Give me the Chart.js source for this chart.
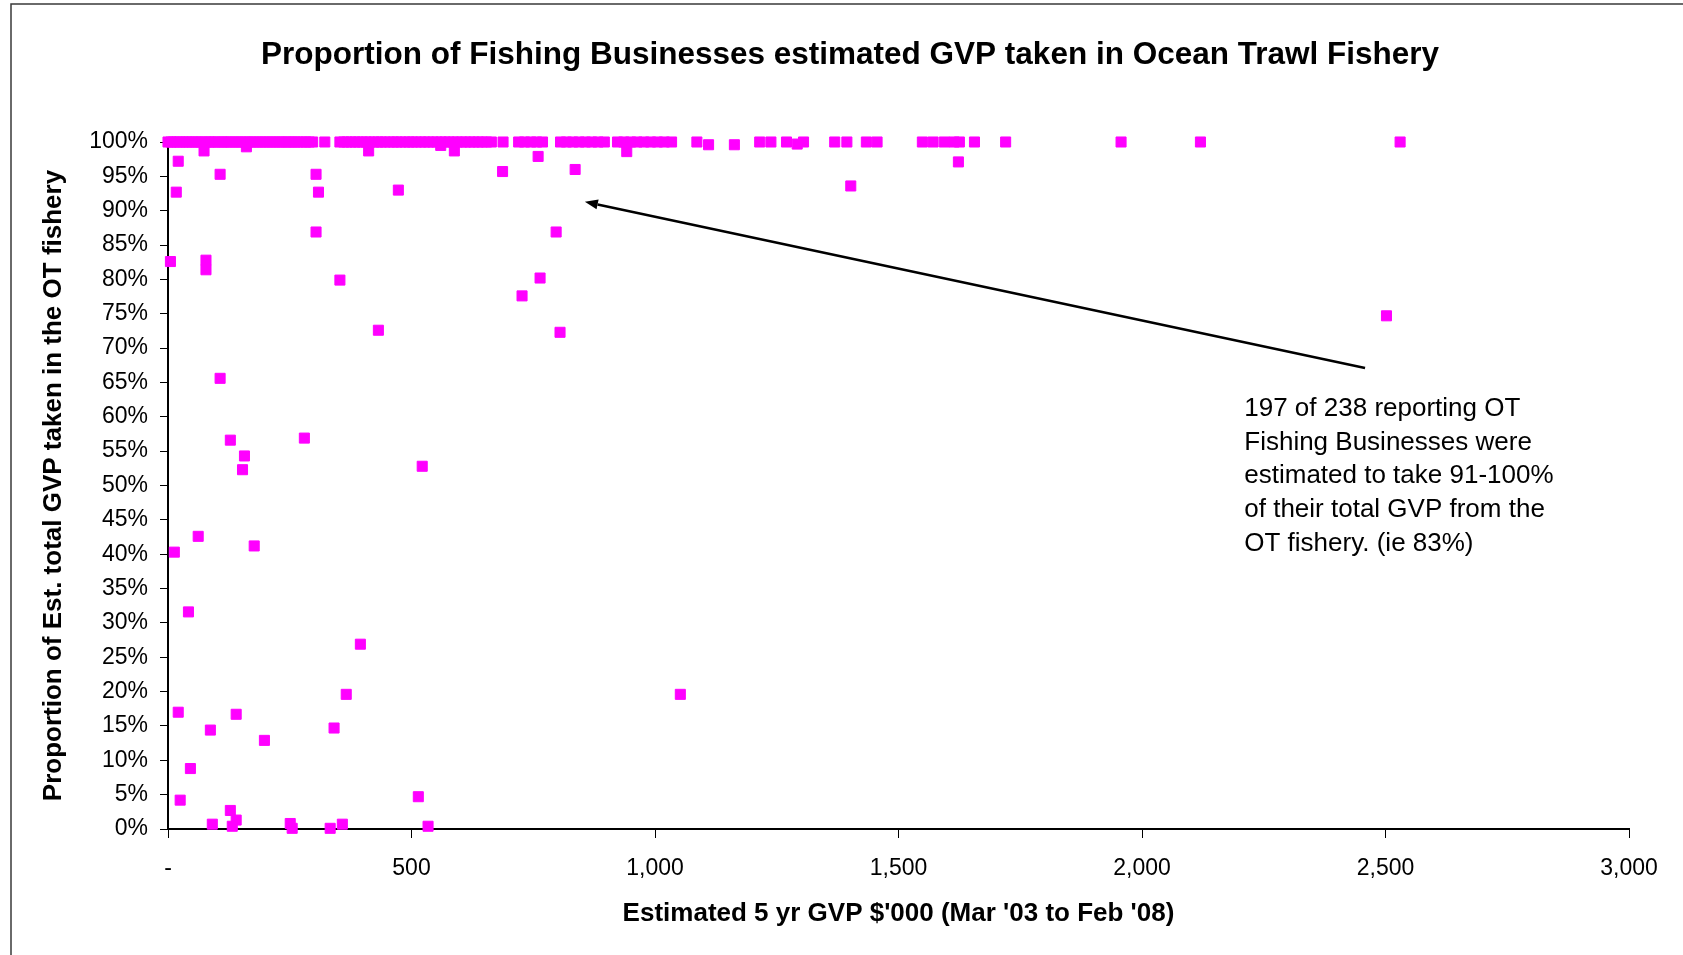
<!DOCTYPE html>
<html>
<head>
<meta charset="utf-8">
<script src="https://cdn.jsdelivr.net/npm/chart.js@4.4.1/dist/chart.umd.min.js"></script>
<style>
  html, body { margin: 0; padding: 0; background: #ffffff; }
  #wrap { position: relative; width: 1683px; height: 955px; }
  canvas { display: block; }
</style>
</head>
<body>
<div id="wrap"><canvas id="c" width="1683" height="955"></canvas></div>
<script>
// ---- Data ----
const titleText = "Proportion of Fishing Businesses estimated GVP taken in Ocean Trawl Fishery";
const xTitle = "Estimated 5 yr GVP $'000 (Mar '03 to Feb '08)";
const yTitle = "Proportion of Est. total GVP taken in the OT fishery";
const noteLines = ["197 of 238 reporting OT", "Fishing Businesses were", "estimated to take 91-100%", "of their total GVP from the", "OT fishery. (ie 83%)"];

// Businesses taking ~100% of GVP from the OT fishery (x = est. 5 yr GVP $'000)
const fullShareGvp = [0, 6, 11, 19, 24, 31, 38, 43, 50, 57, 63, 69, 77, 84, 89, 96, 103, 110, 116, 123,
  129, 137, 144, 150, 158, 165, 171, 178, 186, 192, 199, 207, 213, 220, 228, 234, 241, 248, 255, 261,
  268, 276, 283, 290, 297, 322, 353, 361, 368, 376, 384, 391, 399, 407, 414, 423, 431, 438, 446, 455,
  463, 470, 478, 487, 495, 502, 510, 519, 527, 535, 544, 552, 561, 569, 577, 586, 594, 603, 611, 620,
  628, 637, 645, 654, 664, 688, 720, 732, 745, 757, 769, 806, 818, 831, 844, 857, 870, 883, 896, 923,
  936, 950, 963, 977, 991, 1005, 1019, 1034, 1086, 1215, 1238, 1270, 1305, 1369, 1394, 1434, 1456, 1549,
  1571, 1594, 1614, 1625, 1656, 1720, 1957, 2120, 2530];
const fullShareValue = 100;

// Remaining businesses: GVP and share (%)
const partGvp = [21, 74, 161, 412, 560, 588, 760, 942, 836, 107, 304, 17, 309, 473, 687, 1110, 1163, 1292, 1623, 1402,
  304, 797, 5, 78, 78, 353, 764, 727, 432, 805, 2502, 107, 128, 280, 157, 153, 522, 62, 13, 177,
  42, 395, 366, 1052, 21, 140, 87, 341, 198, 46, 25, 514, 128, 140, 91, 132, 251, 255, 333, 358, 534];
const partShare = [97.2, 98.7, 99.3, 98.7, 99.5, 98.7, 97.9, 98.6, 96.0, 95.3, 95.3, 92.7, 92.7, 93.0, 95.7, 99.6, 99.6, 99.7, 97.1, 93.6,
  86.9, 86.9, 82.6, 82.8, 81.4, 79.9, 80.2, 77.6, 72.6, 72.3, 74.7, 65.6, 56.6, 56.9, 54.3, 52.3, 52.8, 42.6, 40.3, 41.2,
  31.6, 26.9, 19.6, 19.6, 17.0, 16.7, 14.4, 14.7, 12.9, 8.8, 4.2, 4.7, 2.7, 1.3, 0.7, 0.4, 0.8, 0.1, 0.1, 0.7, 0.4];

// Axis ranges / ticks
const xMin = 0, xMax = 3000, xStep = 500;
const yMin = 0, yMax = 100, yStep = 5;

// Arrow annotation (data coordinates): from the note to the 91% point
const arrowFrom = { x: 2458, y: 67.1 };
const arrowTo = { x: 856, y: 91.3 };
const noteAnchor = { x: 2210, y: 61.2 };

// ---- Build chart ----
const points = fullShareGvp.map(g => ({ x: g, y: fullShareValue }))
  .concat(partGvp.map((g, i) => ({ x: g, y: partShare[i] })));

const FONT = "'Liberation Sans', Arial, Helvetica, sans-serif";

const decor = {
  id: 'decor',
  beforeDraw(chart) {
    const ctx = chart.ctx;
    ctx.save();
    ctx.fillStyle = '#ffffff';
    ctx.fillRect(0, 0, chart.width, chart.height);
    ctx.strokeStyle = '#3a3a3a';
    ctx.lineWidth = 1.5;
    ctx.beginPath();
    ctx.moveTo(11, chart.height);
    ctx.lineTo(11, 4);
    ctx.lineTo(chart.width, 4);
    ctx.stroke();
    ctx.restore();
  },
  afterDraw(chart) {
    const ctx = chart.ctx;
    const xs = chart.scales.x, ys = chart.scales.y;
    ctx.save();
    // chart title (centred on the whole chart object, as in the reference)
    ctx.fillStyle = '#000';
    ctx.font = 'bold 31.5px ' + FONT;
    ctx.textAlign = 'center';
    ctx.textBaseline = 'middle';
    ctx.fillText(titleText, 850, 55);

    const x1 = xs.getPixelForValue(arrowFrom.x), y1 = ys.getPixelForValue(arrowFrom.y);
    const x2 = xs.getPixelForValue(arrowTo.x), y2 = ys.getPixelForValue(arrowTo.y);
    ctx.strokeStyle = '#000';
    ctx.lineWidth = 2.5;
    const ang = Math.atan2(y2 - y1, x2 - x1);
    const headLen = 13, headW = 5;
    const bx = x2 - headLen * Math.cos(ang), by = y2 - headLen * Math.sin(ang);
    ctx.beginPath();
    ctx.moveTo(x1, y1);
    ctx.lineTo(bx, by);
    ctx.stroke();
    ctx.beginPath();
    ctx.moveTo(x2, y2);
    ctx.lineTo(bx + headW * Math.sin(ang), by - headW * Math.cos(ang));
    ctx.lineTo(bx - headW * Math.sin(ang), by + headW * Math.cos(ang));
    ctx.closePath();
    ctx.fill();
    // note text
    ctx.font = '26px ' + FONT;
    ctx.textAlign = 'left';
    ctx.textBaseline = 'middle';
    const tx = xs.getPixelForValue(noteAnchor.x);
    const ty = ys.getPixelForValue(noteAnchor.y);
    noteLines.forEach((ln, i) => ctx.fillText(ln, tx, ty + i * 33.8));
    ctx.restore();
  }
};

new Chart(document.getElementById('c'), {
  type: 'scatter',
  data: {
    datasets: [{
      data: points,
      clip: false,
      pointStyle: 'rect',
      pointRadius: 7.1,
      pointHoverRadius: 7.1,
      borderWidth: 1,
      backgroundColor: '#ff00ff',
      borderColor: '#ff00ff'
    }]
  },
  plugins: [decor],
  options: {
    responsive: false,
    animation: false,
    devicePixelRatio: 1,
    layout: { padding: { left: 0, right: 54, top: 142, bottom: 0 } },
    plugins: {
      legend: { display: false },
      tooltip: { enabled: false },
      title: { display: false }
    },
    scales: {
      x: {
        type: 'linear',
        position: 'bottom',
        min: xMin, max: xMax,
        afterFit: s => { s.height = 126; },
        ticks: {
          stepSize: xStep,
          autoSkip: false,
          maxRotation: 0,
          padding: 17,
          color: '#000',
          font: { family: FONT, size: 23 },
          callback: v => v === 0 ? '-' : v.toLocaleString('en-US')
        },
        grid: { display: true, drawOnChartArea: false, drawTicks: true, tickLength: 9, color: '#000', lineWidth: 1 },
        border: { display: true, color: '#000', width: 2 },
        title: {
          display: true, text: xTitle, color: '#000',
          font: { family: FONT, size: 26, weight: 'bold', lineHeight: 1.2 },
          padding: { top: 0, bottom: 26 }
        }
      },
      y: {
        type: 'linear',
        min: yMin, max: yMax,
        afterFit: s => { s.width = 168; },
        ticks: {
          stepSize: yStep,
          autoSkip: false,
          padding: 12,
          color: '#000',
          font: { family: FONT, size: 23 },
          callback: v => v + '%'
        },
        grid: { display: true, drawOnChartArea: false, drawTicks: true, tickLength: 8, color: '#000', lineWidth: 1 },
        border: { display: true, color: '#000', width: 2 },
        title: {
          display: true, text: yTitle, color: '#000',
          font: { family: FONT, size: 26, weight: 'bold', lineHeight: 1.2 },
          padding: { top: 38, bottom: 0 }
        }
      }
    }
  }
});
</script>
</body>
</html>
